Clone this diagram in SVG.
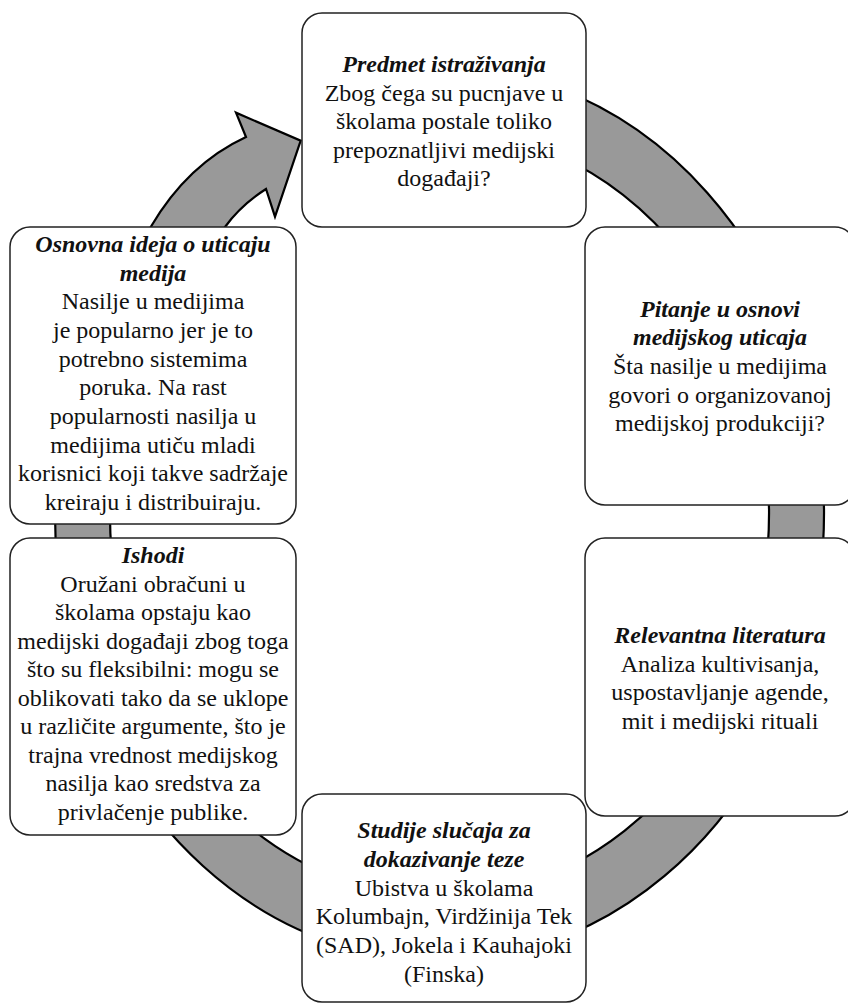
<svg xmlns="http://www.w3.org/2000/svg" width="848" height="1004" viewBox="0 0 848 1004">
<style>
.ring{fill:#999999;stroke:#000;stroke-width:2.2;stroke-linejoin:miter}
.box{fill:#fff;stroke:#222;stroke-width:1.5}
text{font-family:"Liberation Serif","DejaVu Serif",serif;font-size:24px;fill:#111;text-anchor:middle}
.t{font-weight:bold;font-style:italic}
</style>
<rect width="848" height="1004" fill="#fff"/>
<g id="connectors">
<path class="ring" d="M400,68.9 A384.5,447 0 1 1 88.9,330 L150.7,227 Q187.6,164 246,137 L236,112.7 L300.7,140.7 L275,216.7 L266,189 Q241,205 225,227 L150.2,330 A329.5,383.5 0 1 0 400,132.8 Z"/>
</g>
<g id="node-predmet">
<rect class="box" x="302" y="13" width="284" height="214" rx="20"/>
<text x="444" y="72" class="t">Predmet istraživanja</text>
<text x="444" y="100.5">Zbog čega su pucnjave u</text>
<text x="444" y="129">školama postale toliko</text>
<text x="444" y="157.5">prepoznatljivi medijski</text>
<text x="444" y="186">događaji?</text>
</g>
<g id="node-pitanje">
<rect class="box" x="585" y="227" width="270" height="278" rx="20"/>
<text x="720" y="316.7" class="t">Pitanje u osnovi</text>
<text x="720" y="345.3" class="t">medijskog uticaja</text>
<text x="720" y="374">Šta nasilje u medijima</text>
<text x="720" y="402.7">govori o organizovanoj</text>
<text x="720" y="431.3">medijskoj produkciji?</text>
</g>
<g id="node-literatura">
<rect class="box" x="585" y="538" width="270" height="278" rx="20"/>
<text x="720" y="643" class="t">Relevantna literatura</text>
<text x="720" y="671.7">Analiza kultivisanja,</text>
<text x="720" y="700.3">uspostavljanje agende,</text>
<text x="720" y="729">mit i medijski rituali</text>
</g>
<g id="node-studije">
<rect class="box" x="302" y="794" width="284" height="208" rx="20"/>
<text x="444" y="838.3" class="t">Studije slučaja za</text>
<text x="444" y="866.9" class="t">dokazivanje teze</text>
<text x="444" y="895.6">Ubistva u školama</text>
<text x="444" y="924.2">Kolumbajn, Virdžinija Tek</text>
<text x="444" y="952.9">(SAD), Jokela i Kauhajoki</text>
<text x="444" y="981.5">(Finska)</text>
</g>
<g id="node-ishodi">
<rect class="box" x="10" y="538" width="286" height="297" rx="20"/>
<text x="153" y="563.3" class="t">Ishodi</text>
<text x="153" y="591.8">Oružani obračuni u</text>
<text x="153" y="620.3">školama opstaju kao</text>
<text x="153" y="648.8">medijski događaji zbog toga</text>
<text x="153" y="677.3">što su fleksibilni: mogu se</text>
<text x="153" y="705.8">oblikovati tako da se uklope</text>
<text x="153" y="734.3">u različite argumente, što je</text>
<text x="153" y="762.8">trajna vrednost medijskog</text>
<text x="153" y="791.3">nasilja kao sredstva za</text>
<text x="153" y="819.8">privlačenje publike.</text>
</g>
<g id="node-osnovna">
<rect class="box" x="10" y="227" width="286" height="297" rx="20"/>
<text x="153" y="252" class="t">Osnovna ideja o uticaju</text>
<text x="153" y="280.6" class="t">medija</text>
<text x="153" y="309.3">Nasilje u medijima</text>
<text x="153" y="338">je popularno jer je to</text>
<text x="153" y="366.6">potrebno sistemima</text>
<text x="153" y="395.3">poruka. Na rast</text>
<text x="153" y="424">popularnosti nasilja u</text>
<text x="153" y="452.6">medijima utiču mladi</text>
<text x="153" y="481.3">korisnici koji takve sadržaje</text>
<text x="153" y="510">kreiraju i distribuiraju.</text>
</g>
</svg>
